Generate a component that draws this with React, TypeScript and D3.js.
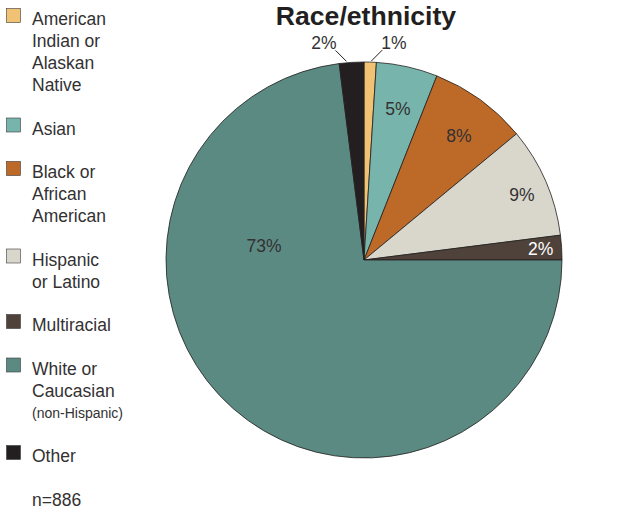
import React from "react";
import * as d3 from "d3";

const categories = [
  "American Indian or Alaskan Native",
  "Asian",
  "Black or African American",
  "Hispanic or Latino",
  "Multiracial",
  "White or Caucasian (non-Hispanic)",
  "Other",
];
const values = [1, 5, 8, 9, 2, 73, 2];
const colors = ["#f1c273", "#77b5ac", "#bd6a29", "#d9d7cc", "#4f423b", "#5b8a82", "#231f20"];
const legendLines = [
  ["American", "Indian or", "Alaskan", "Native"],
  ["Asian"],
  ["Black or", "African", "American"],
  ["Hispanic", "or Latino"],
  ["Multiracial"],
  ["White or", "Caucasian", "(non-Hispanic)"],
  ["Other"],
];
const title = "Race/ethnicity";
const sampleNote = "n=886";

// label layout (radius in px, optional angle override in degrees) per slice
const labelLayout: { r: number; angle?: number; outside?: boolean; side?: number; color?: string }[] = [
  { r: 0, outside: true, side: 1 },
  { r: 155 },
  { r: 156, angle: 37.5 },
  { r: 171, angle: 67.5 },
  { r: 177, color: "#ffffff" },
  { r: 101, angle: 278 },
  { r: 0, outside: true, side: -1 },
];

export default function App() {
  const W = 623, H = 513;
  const cx = 364, cy = 260, R = 198;
  const pie = d3.pie<number>().sort(null).value((d) => d);
  const arcs = pie(values);
  const arc = d3.arc<d3.PieArcDatum<number>>().innerRadius(0).outerRadius(R);
  const font = "'Liberation Sans', Arial, Helvetica, sans-serif";
  const textColor = "#333132";

  // legend
  const lineH = 22;
  const gap = 21.5;
  let y = 25;
  const legendItems: JSX.Element[] = [];
  legendLines.forEach((lines, i) => {
    const startY = y;
    legendItems.push(
      <rect key={"sw" + i} x={6.5} y={startY - 16.5} width={14} height={14} fill={colors[i]} stroke="#3a3a3a" strokeWidth={0.6} />
    );
    lines.forEach((ln, j) => {
      const small = ln.startsWith("(");
      legendItems.push(
        <text key={"t" + i + "_" + j} x={32} y={startY + j * lineH - (small ? 1 : 0)} fontSize={small ? 14 : 17.5} fill={textColor}>
          {ln}
        </text>
      );
    });
    y += lines.length * lineH + gap;
  });

  return (
    <svg width={W} height={H} style={{ position: "absolute", left: 0, top: 0, fontFamily: font }}>
      <rect width={W} height={H} fill="#ffffff" />
      <text x={366} y={25} textAnchor="middle" fontSize={26.6} fontWeight="bold" fill="#231f20">
        {title}
      </text>
      <g transform={`translate(${cx},${cy})`}>
        {arcs.map((a, i) => (
          <path key={i} d={arc(a) || ""} fill={colors[i]} stroke="#231f20" strokeWidth={0.8} />
        ))}
        {arcs.map((a, i) => {
          const L = labelLayout[i];
          const mid = L.angle !== undefined ? (L.angle * Math.PI) / 180 : (a.startAngle + a.endAngle) / 2;
          if (L.outside) {
            const s = L.side!;
            const x1 = Math.sin(mid) * (R + 1) + (s > 0 ? 1 : -5);
            const y1 = -Math.cos(mid) * (R + 1);
            const x2 = x1 + s * 11, y2 = y1 - 11;
            return (
              <g key={"l" + i}>
                <line x1={x1} y1={y1} x2={x2} y2={y2} stroke="#231f20" strokeWidth={1} />
                <text x={x2 + s * -1} y={y2 - 1} textAnchor={s > 0 ? "start" : "end"} fontSize={17.5} fill={textColor}>
                  {values[i]}%
                </text>
              </g>
            );
          }
          const x = Math.sin(mid) * L.r, yy = -Math.cos(mid) * L.r;
          return (
            <text key={"l" + i} x={x} y={yy + 6} textAnchor="middle" fontSize={17.5} fill={L.color || textColor}>
              {values[i]}%
            </text>
          );
        })}
      </g>
      {legendItems}
      <text x={32} y={506} fontSize={17.5} fill={textColor}>
        {sampleNote}
      </text>
    </svg>
  );
}
